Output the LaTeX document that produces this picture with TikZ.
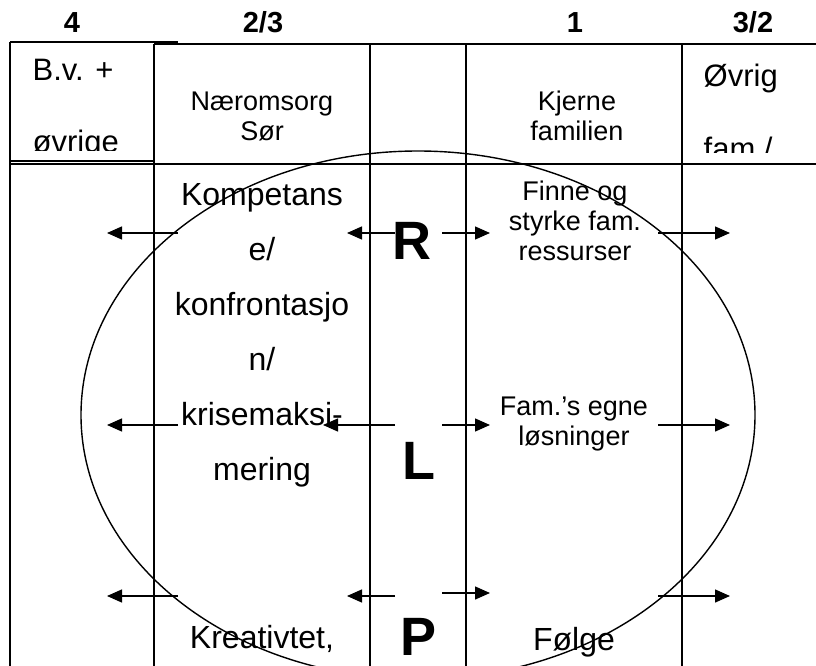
\documentclass[tikz,border=0pt]{standalone}
\usepackage{fontspec}
\setmainfont{Liberation Sans}
\usetikzlibrary{arrows.meta}

\begin{document}
\begin{tikzpicture}[x=1pt,y=-1pt,line width=1.4pt,
  arr/.style={-{Triangle[length=15pt,width=13pt]}},
  big/.style={font=\fontsize{32}{55}\selectfont,align=center,inner sep=0pt,anchor=base},
  head/.style={font=\fontsize{31}{73}\selectfont,align=left,inner sep=0pt,anchor=base west},
  small/.style={font=\fontsize{27}{30}\selectfont,align=center,inner sep=0pt,anchor=base},
  num/.style={font=\fontsize{29}{32}\selectfont\bfseries,inner sep=0pt,anchor=base},
  letter/.style={font=\fontsize{54}{60}\selectfont\bfseries,inner sep=0pt}]
  \useasboundingbox (0,0) rectangle (816,666);
  \clip (0,0) rectangle (816,666);
  \draw (10,42) -- (178,42);
  \draw (10,161) -- (154,161);
  \draw (154,44) -- (816,44);
  \draw (10,164) -- (816,164);
  \draw (10,42) -- (10,666);
  \draw (154,44) -- (154,666);
  \draw (370,44) -- (370,666);
  \draw (466,44) -- (466,666);
  \draw (682,44) -- (682,666);
  \node[num] (n4) at (72,33) {4};
  \node[num] (n23) at (263,33) {2/3};
  \node[num] (n1) at (575,33) {1};
  \node[num] (n32) at (753,33) {3/2};
  \begin{scope}
    \clip (10,42) rectangle (154,150);
    \node[head] (bv) at (32,153) {B.v. +\\øvrige};
  \end{scope}
  \begin{scope}
    \clip (682,44) rectangle (816,152);
    \node[head] (ovrig) at (703,159) {Øvrig\\fam /};
  \end{scope}
  \node[small] (naer) at (262,140) {Næromsorg\\Sør};
  \node[small] (kjerne) at (577,140) {Kjerne\\familien};
  \node[big] (komp) at (262,480) {Kompetans\\e/\\konfrontasjo\\n/\\krisemaksi-\\mering};
  \node[big] (krea) at (262,648) {Kreativtet,};
  \node[small] (finne) at (575,260) {Finne og\\styrke fam.\\ressurser};
  \node[small] (egne) at (574,445) {Fam.’s egne\\løsninger};
  \node[big] (folge) at (574,650) {Følge};
  \node[letter] (R) at (412,241) {R};
  \node[letter] (L) at (419,461) {L};
  \node[letter] (P) at (419,637) {P};
  \foreach \y/\m/\u in {233/347/233,425/323/425,596/347/593}{
    \draw[arr] (178,\y) -- (107,\y);
    \draw[arr] (395,\y) -- (\m,\y);
    \draw[arr] (442,\u) -- (490,\u);
    \draw[arr] (658,\y) -- (730,\y);
  }
  \draw (418,415) ellipse [x radius=337pt, y radius=264pt];
\end{tikzpicture}
\end{document}
